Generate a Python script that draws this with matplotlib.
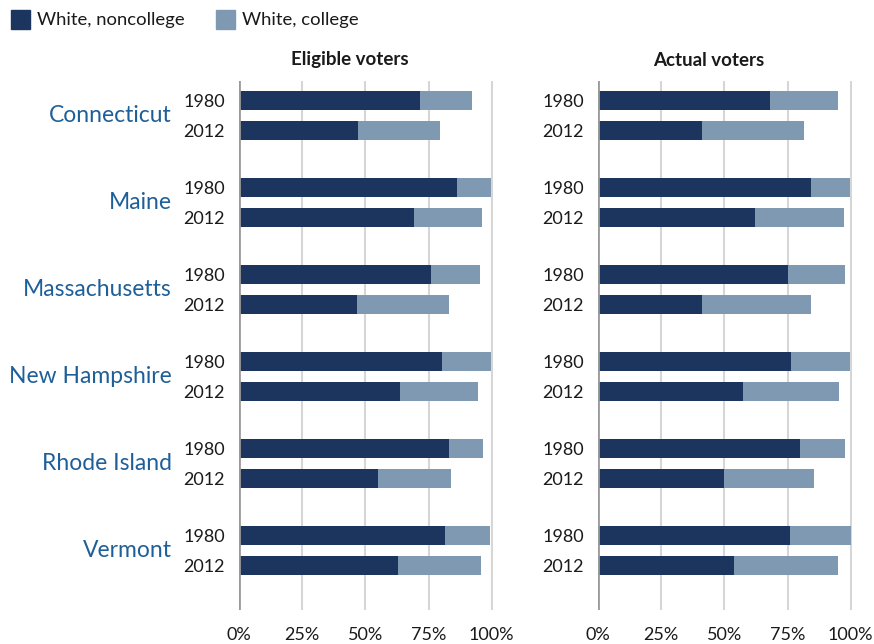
import matplotlib
matplotlib.use("Agg")
import matplotlib.pyplot as plt
from matplotlib.patches import Rectangle
import numpy as np

plt.rcParams['font.family'] = ['Lato', 'DejaVu Sans']

states = ["Connecticut", "Maine", "Massachusetts", "New Hampshire", "Rhode Island", "Vermont"]
years = ["1980", "2012"]
series = ["White, noncollege", "White, college"]
panels = ["Eligible voters", "Actual voters"]

# Eligible voters: [1980, 2012] per state
elig_noncollege = [[71.7, 47.2], [86.2, 69.3], [76.0, 46.5], [80.3, 63.8], [83.1, 55.1], [81.5, 63.0]]
elig_college = [[20.4, 32.3], [13.4, 26.8], [19.3, 36.6], [19.3, 30.7], [13.4, 28.8], [17.7, 32.7]]
# Actual voters
act_noncollege = [[68.1, 41.3], [84.3, 62.2], [75.2, 41.3], [76.4, 57.5], [79.9, 50.0], [76.0, 53.9]]
act_college = [[26.8, 40.2], [15.3, 35.0], [22.4, 43.0], [23.2, 37.8], [17.7, 35.4], [24.0, 41.0]]

xticks = [0, 25, 50, 75, 100]
xticklabels = ["0%", "25%", "50%", "75%", "100%"]

c_dark = "#1c355e"
c_light = "#7f99b2"
c_state = "#1f5f99"

W, H = 874, 644
fig = plt.figure(figsize=(W / 100, H / 100), dpi=100)

group_gap = 2.9
pos = []
for i in range(len(states)):
    for j in range(len(years)):
        pos.append(i * group_gap + j * 1.0)
pos = np.array(pos)

ax_bottom = 1 - 610 / H
ax_height = (610 - 81) / H
lefts = [239 / W, 598 / W]
width = 254 / W

datasets = [(elig_noncollege, elig_college), (act_noncollege, act_college)]

for k, (nc, col) in enumerate(datasets):
    ax = fig.add_axes([lefts[k], ax_bottom, width, ax_height])
    nc_flat = np.array(nc).ravel()
    col_flat = np.array(col).ravel()
    ax.barh(pos, nc_flat, height=0.633, color=c_dark, zorder=3)
    ax.barh(pos, col_flat, left=nc_flat, height=0.633, color=c_light, zorder=3)
    ax.set_xlim(0, 100.5)
    ax.set_ylim(pos[-1] + 1.5, -0.667)
    ax.set_xticks(xticks)
    ax.set_xticklabels(xticklabels, fontsize=13, color="#1a1a1a")
    ax.tick_params(axis='x', length=0, pad=12)
    for xv in xticks[1:]:
        ax.axvline(xv, color="#d6d6d6", lw=1.5, zorder=1)
    ax.axvline(0, color="#9a9a9a", lw=2, zorder=4)
    for s in ax.spines.values():
        s.set_visible(False)
    ax.set_yticks(pos)
    ax.set_yticklabels(years * len(states), fontsize=13, color="#1a1a1a")
    ax.tick_params(axis='y', length=0, pad=10)
    fig.text(lefts[k] + width / 2 - 16 / W, 1 - 60 / H, panels[k], ha='center', va='center',
             fontsize=13.5, fontweight='bold', color="#1a1a1a")
    if k == 0:
        for i, st in enumerate(states):
            yc = i * group_gap + 0.5
            ax.text(-26.5, yc, st, ha='right', va='center', fontsize=16.5,
                    color=c_state, transform=ax.transData, clip_on=False)

# legend
for x0, lab, c in [(11, series[0], c_dark), (216, series[1], c_light)]:
    fig.patches.append(Rectangle((x0 / W, 1 - 29 / H), 19 / W, 19 / H,
                                 transform=fig.transFigure, color=c))
    fig.text((x0 + 26) / W, 1 - 20 / H, lab, ha='left', va='center',
             fontsize=13.3, color="#1a1a1a")

fig.savefig("out.png", dpi=100)
